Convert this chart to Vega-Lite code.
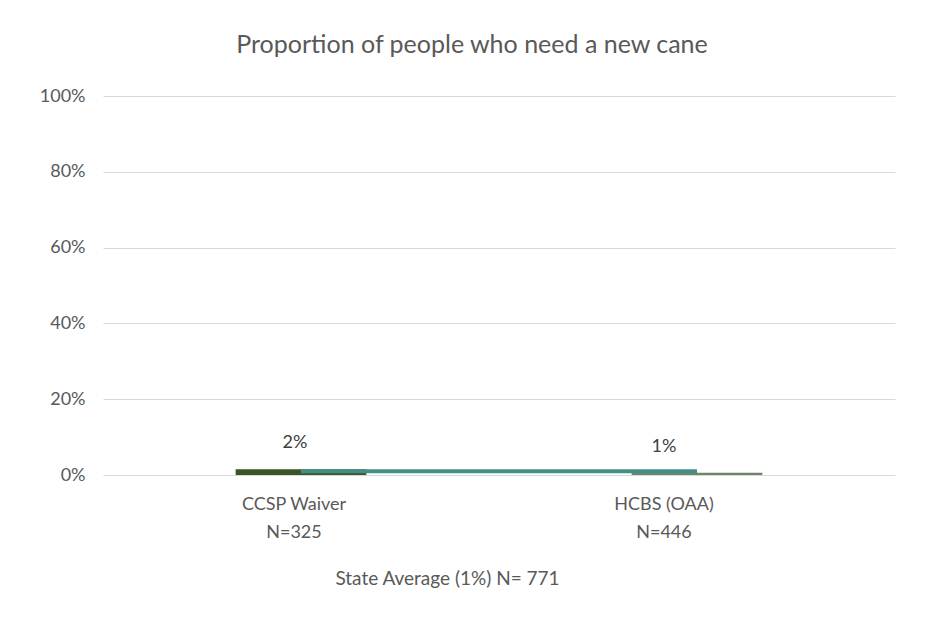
{
  "$schema": "https://vega.github.io/schema/vega-lite/v6.json",
  "autosize": "none",
  "width": 792,
  "height": 379,
  "padding": {"left": 103, "top": 96, "right": 31, "bottom": 154},
  "background": "white",
  "title": {
    "text": "Proportion of people who need a new cane",
    "font": "Lato",
    "fontSize": 25,
    "fontWeight": "normal",
    "color": "#595959",
    "offset": 29,
    "dx": -27
  },
  "data": {
    "values": [
      {"group": "CCSP Waiver|N=325", "pct": 0.015, "avg": 0.01, "color": "CCSP"},
      {"group": "HCBS (OAA)|N=446", "pct": 0.006, "avg": 0.01, "color": "HCBS"}
    ]
  },
  "config": {
    "view": {"stroke": null},
    "axis": {"labelFont": "Lato", "titleFont": "Lato", "labelColor": "#595959", "titleColor": "#595959"}
  },
  "encoding": {
    "x": {
      "field": "group",
      "type": "nominal",
      "sort": null,
      "scale": {"paddingInner": 0.67, "paddingOuter": 0.335},
      "axis": {
        "title": "State Average (1%) N= 771",
        "titleFontSize": 19,
        "titleFontWeight": "normal",
        "titleX": 344,
        "titleY": 103,
        "titleBaseline": "middle",
        "labelAngle": 0,
        "labelFontSize": 18,
        "labelPadding": 20,
        "labelLineHeight": 28,
        "labelExpr": "split(datum.label, '|')",
        "labelOffset": {"condition": {"test": "indexof(datum.value, 'HCBS') == 0", "value": -33}, "value": -7},
        "domain": false,
        "ticks": false
      }
    }
  },
  "layer": [
    {
      "mark": {"type": "bar"},
      "encoding": {
        "y": {
          "field": "pct",
          "type": "quantitative",
          "scale": {"domain": [0, 1]},
          "axis": {
            "title": null,
            "format": ".0%",
            "values": [0, 0.2, 0.4, 0.6, 0.8, 1],
            "labelFontSize": 18,
            "labelPadding": 18,
            "ticks": false,
            "domain": false,
            "gridColor": "#d9d9d9",
            "gridWidth": 1
          }
        },
        "color": {
          "field": "color",
          "type": "nominal",
          "scale": {"domain": ["CCSP", "HCBS"], "range": ["#3b5528", "#6c8468"]},
          "legend": null
        }
      }
    },
    {
      "mark": {"type": "line", "color": "#438f87", "strokeWidth": 4},
      "encoding": {
        "y": {"field": "avg", "type": "quantitative"}
      }
    },
    {
      "transform": [{"filter": "indexof(datum.group, 'CCSP') == 0"}],
      "mark": {"type": "text", "baseline": "bottom", "dy": -17, "dx": -6, "font": "Lato", "fontSize": 18, "color": "#404040"},
      "encoding": {
        "y": {"field": "pct", "type": "quantitative"},
        "text": {"field": "pct", "type": "quantitative", "format": ".0%"}
      }
    },
    {
      "transform": [{"filter": "indexof(datum.group, 'HCBS') == 0"}],
      "mark": {"type": "text", "baseline": "bottom", "dy": -17, "dx": -33, "font": "Lato", "fontSize": 18, "color": "#404040"},
      "encoding": {
        "y": {"field": "pct", "type": "quantitative"},
        "text": {"field": "pct", "type": "quantitative", "format": ".0%"}
      }
    }
  ]
}
